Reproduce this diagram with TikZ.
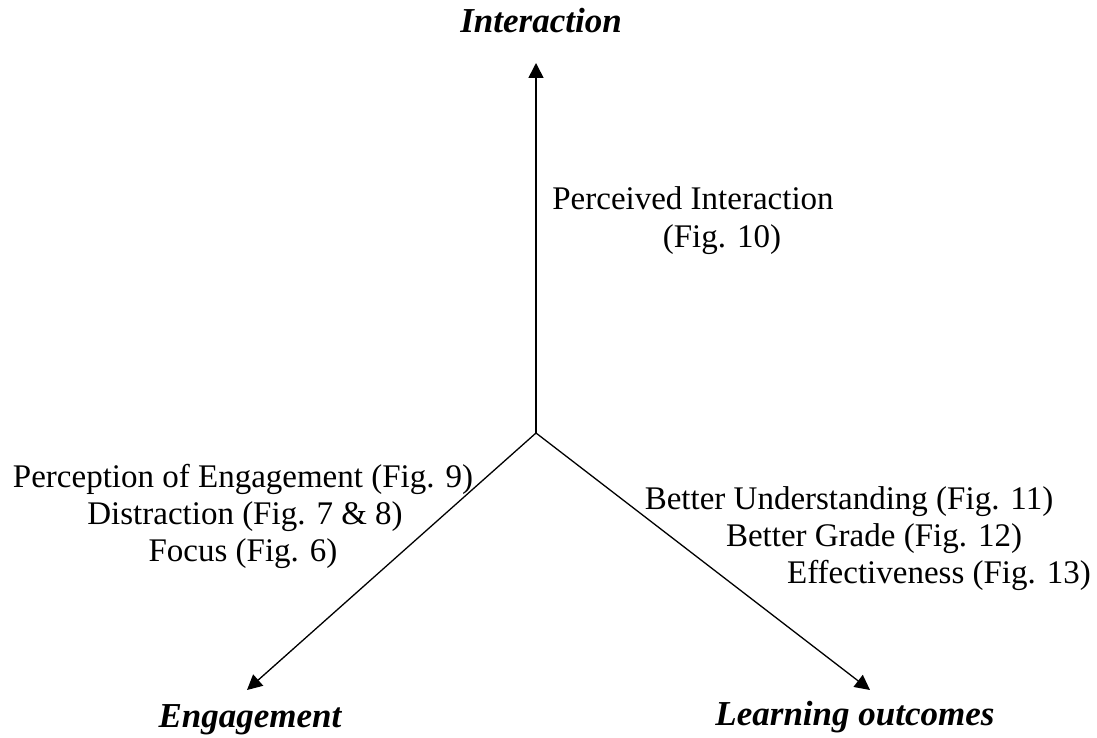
\documentclass[tikz,border=0pt]{standalone}
\usepackage{fontspec}
\setmainfont{Liberation Serif}
\usetikzlibrary{arrows.meta,positioning}

\begin{document}
\begin{tikzpicture}[
  x=1pt, y=-1pt,
  axis/.style={-{Triangle[length=15pt,width=15pt]}, line width=1.6pt},
  title/.style={anchor=base, inner sep=0pt, font=\fontsize{35}{40}\selectfont\bfseries\itshape},
  item/.style={anchor=base, inner sep=0pt, font=\fontsize{33}{37}\selectfont}
]
\useasboundingbox (0,0) rectangle (1097,738);

\coordinate (origin) at (536,433);
\coordinate (interTip) at (536,63);
\coordinate (engageTip) at (247,690);
\coordinate (learnTip) at (870,690);

\node[title] (inter) at (541,33) {Interaction};
\node[title] (engage) at (250,727) {Engagement};
\node[title] (learn) at (855,725) {Learning outcomes};

\node[item] (percInter) at (693,209) {Perceived Interaction};
\node[item] (percInterFig) at (722,247) {(Fig. 10)};

\node[item] (percEngage) at (243,487) {Perception of Engagement (Fig. 9)};
\node[item] (distract) at (245,524) {Distraction (Fig. 7 \& 8)};
\node[item] (focus) at (243,561) {Focus (Fig. 6)};

\node[item] (understand) at (849,509) {Better Understanding (Fig. 11)};
\node[item] (grade) at (874,546) {Better Grade (Fig. 12)};
\node[item] (effective) at (939,583) {Effectiveness (Fig. 13)};

\draw[axis] (origin) -- (interTip);
\draw[axis, line width=1.3pt] (origin) -- (engageTip);
\draw[axis, line width=1.3pt] (origin) -- (learnTip);
\end{tikzpicture}
\end{document}
